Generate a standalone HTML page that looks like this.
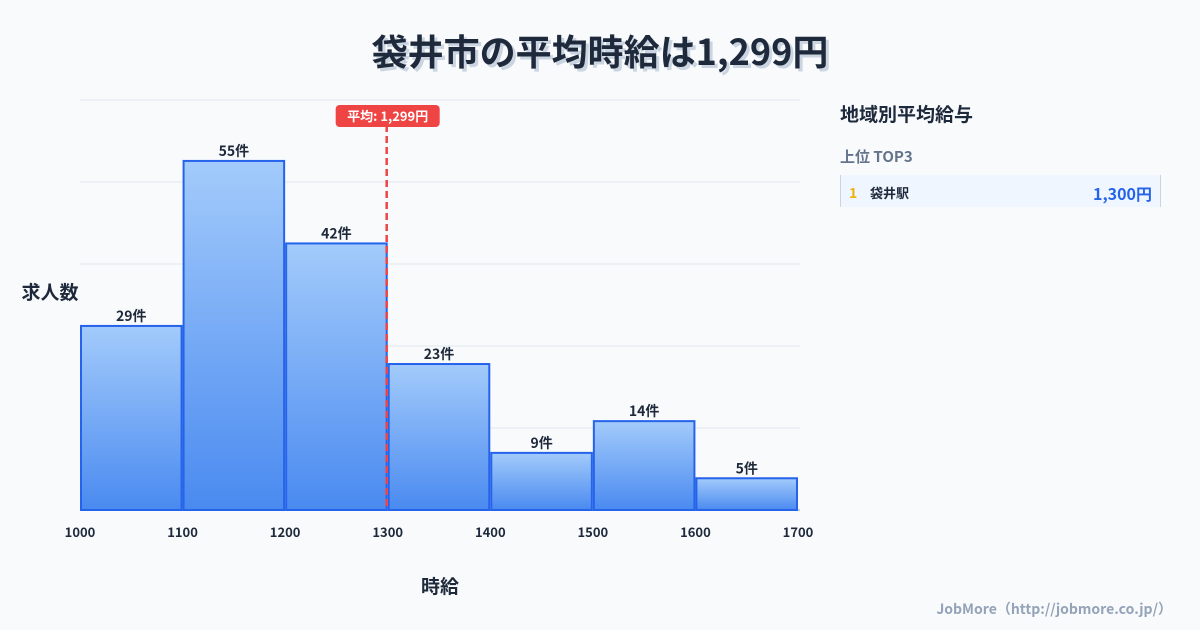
<!DOCTYPE html>
<html><head><meta charset="utf-8"><style>
body{margin:0;width:1200px;height:630px;background:#f8fafc;font-family:"Noto Sans CJK JP","Liberation Sans",sans-serif;overflow:hidden;position:relative}
.t{position:absolute;left:0;width:1200px;top:25px;text-align:center;font-size:36px;line-height:50px;font-weight:bold;color:#1e293b;text-shadow:3px 3px 0 #cbd5e1}
.p{position:absolute;line-height:1.2}
</style></head><body>
<div class="t">袋井市の平均時給は1,299円</div>
<svg class="p" style="left:0;top:0" width="1200" height="630">
<defs><linearGradient id="g" x1="0" y1="0" x2="0" y2="1"><stop offset="0" stop-color="#a3cbfb"/><stop offset="1" stop-color="#4a8af0"/></linearGradient></defs>
<g id="grid"></g><g id="bars"></g><g id="xt"></g><g id="avg"></g>
<text x="50" y="299" text-anchor="middle" font-size="19" font-weight="bold" fill="#1e293b">求人数</text>
<text x="440" y="593" text-anchor="middle" font-size="19" font-weight="bold" fill="#1e293b">時給</text>
</svg>
<div class="p" style="left:840px;top:103px;font-size:19px;font-weight:bold;color:#1e293b">地域別平均給与</div>
<div class="p" style="left:840px;top:148px;font-size:15px;font-weight:bold;color:#64748b">上位 TOP3</div>
<div class="p" style="left:840px;top:175px;width:319px;height:32px;background:#eff6ff;border-left:1px solid #cbd5e1;border-right:1px solid #cbd5e1">
<span class="p" style="left:8px;top:10px;font-size:14px;font-weight:bold;color:#eab308">1</span>
<span class="p" style="left:29px;top:10px;font-size:13px;font-weight:bold;color:#1e293b">袋井駅</span>
<span class="p" style="right:8px;top:9px;font-size:16px;font-weight:bold;color:#2563eb">1,300円</span>
</div>
<div class="p" style="right:28px;top:601px;font-size:14px;font-weight:bold;color:#94a3b8">JobMore（http://jobmore.co.jp/）</div>
<script>
const binStarts=[1000,1100,1200,1300,1400,1500,1600];
const counts=[29,55,42,23,9,14,5];
const xTicks=[1000,1100,1200,1300,1400,1500,1600,1700];
const avgValue=1299;
const avgLabel="平均: 1,299円";
const NS="http://www.w3.org/2000/svg";
const x=v=>80+(v-1000)*718/700, y=v=>510-v*410/64.6;
function mk(t,a,p){const e=document.createElementNS(NS,t);for(const k in a)e.setAttribute(k,a[k]);p.appendChild(e);return e;}
const G=document.getElementById('grid');
for(let i=0;i<6;i++){const l=mk('line',{x1:80,x2:800,y1:100+i*82,y2:100+i*82,stroke:i==5?'#94a3b8':'#e2e8f0'},G);

}
const B=document.getElementById('bars');
binStarts.forEach((s,i)=>{const x0=x(s)+1,x1=x(s+100)-1,yt=y(counts[i]);
const r=mk('rect',{x:x0,y:yt,width:x1-x0,height:510-yt,fill:'url(#g)',stroke:'#2563eb','stroke-width':2},B);


const t=mk('text',{x:(x0+x1)/2,y:yt-5,'text-anchor':'middle','font-size':14,'font-weight':'bold',fill:'#1e293b'},B);t.textContent=counts[i]+'件';

});
const X=document.getElementById('xt');
xTicks.forEach(v=>{const t=mk('text',{x:x(v),y:537,'text-anchor':'middle','font-size':13,'font-weight':'bold',fill:'#1e293b'},X);t.textContent=v;

});
const A=document.getElementById('avg'),ax=x(avgValue);
const al=mk('line',{x1:ax,x2:ax,y1:125,y2:510,stroke:'#ef4444','stroke-width':2.5,'stroke-dasharray':'7 4'},A);


const ar=mk('rect',{x:ax-51,y:105,width:104,height:22,rx:4,fill:'#ef4444'},A);


const at=mk('text',{x:ax+1,y:121,'text-anchor':'middle','font-size':13,'font-weight':'bold',fill:'#fff'},A);at.textContent=avgLabel;


</script>
</body></html>
